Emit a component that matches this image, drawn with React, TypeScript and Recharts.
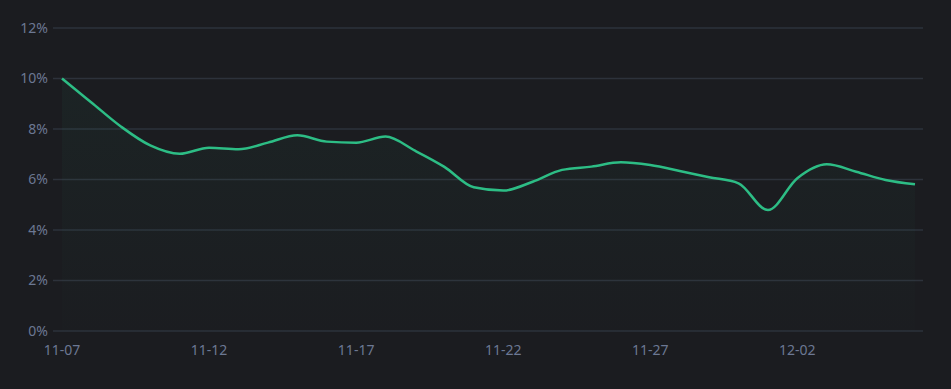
import { AreaChart, Area, XAxis, YAxis, CartesianGrid } from "recharts";

const dates = [
  "11-07", "11-08", "11-09", "11-10", "11-11", "11-12", "11-13", "11-14", "11-15", "11-16",
  "11-17", "11-18", "11-19", "11-20", "11-21", "11-22", "11-23", "11-24", "11-25", "11-26",
  "11-27", "11-28", "11-29", "11-30", "12-01", "12-02", "12-03", "12-04", "12-05", "12-06",
];

const rates = [
  10.0, 9.05, 8.1, 7.35, 7.02, 7.26, 7.2, 7.46, 7.75, 7.5,
  7.46, 7.7, 7.14, 6.5, 5.69, 5.56, 5.91, 6.38, 6.51, 6.68,
  6.57, 6.34, 6.09, 5.85, 4.79, 6.05, 6.6, 6.31, 5.98, 5.81,
];

const xTicks = ["11-07", "11-12", "11-17", "11-22", "11-27", "12-02"];
const yTicks = [0, 2, 4, 6, 8, 10, 12];

const data = dates.map((d, i) => ({ date: d, rate: rates[i] }));

const tickStyle = { fill: "#6c7893", fontSize: 14, fontFamily: "'Noto Sans', sans-serif" };

export default function App() {
  return (
    <div
      style={{
        position: "fixed",
        left: 0,
        top: 0,
        width: 951,
        height: 389,
        background: "#1b1c20",
      }}
    >
      <AreaChart
        width={951}
        height={389}
        data={data}
        margin={{ top: 28, right: 28, bottom: 0, left: 0 }}
      >
        <defs>
          <linearGradient id="fillGreen" x1="0" y1="0" x2="0" y2="1">
            <stop offset="0%" stopColor="#2dbd85" stopOpacity={0.08} />
            <stop offset="100%" stopColor="#2dbd85" stopOpacity={0.01} />
          </linearGradient>
        </defs>
        <CartesianGrid vertical={false} stroke="#2d323b" strokeWidth={1.5} />
        <XAxis
          dataKey="date"
          ticks={xTicks}
          interval={0}
          axisLine={false}
          tickLine={false}
          tickSize={6}
          tickMargin={8}
          height={58}
          padding={{ left: 9, right: 8 }}
          tick={tickStyle}
        />
        <YAxis
          domain={[0, 12]}
          ticks={yTicks}
          tickFormatter={(v) => `${v}%`}
          axisLine={false}
          tickLine={false}
          tickSize={5}
          tickMargin={0}
          width={53}
          tick={tickStyle}
        />
        <Area
          type="monotone"
          dataKey="rate"
          stroke="#2dbd85"
          strokeWidth={2.5}
          fill="url(#fillGreen)"
          dot={false}
          activeDot={false}
          isAnimationActive={false}
        />
      </AreaChart>
    </div>
  );
}
